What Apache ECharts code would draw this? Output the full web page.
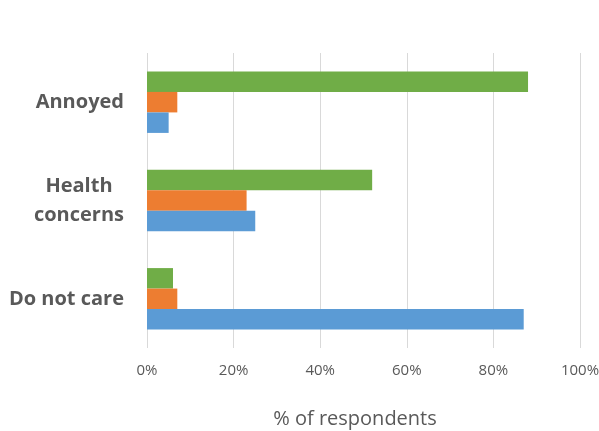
<!DOCTYPE html>
<html>
<head>
<meta charset="utf-8">
<script src="https://cdn.jsdelivr.net/npm/echarts@6/dist/echarts.min.js"></script>
<style>html,body{margin:0;padding:0;background:#fff;}#c{width:599px;height:431px;}</style>
</head>
<body>
<div id="c"></div>
<script>
var categories = ['Do not care', 'Health concerns', 'Annoyed'];
var seriesBlue = [87, 25, 5];
var seriesOrange = [7, 23, 7];
var seriesGreen = [6, 52, 88];
var xTicks = [0, 20, 40, 60, 80, 100];

var FONT = 'Open Sans';
var chart = echarts.init(document.getElementById('c'));
function bar(name, data, color) {
  return { name: name, type: 'bar', data: data, barWidth: 20.5, barGap: '0%',
    itemStyle: { color: color }, silent: true };
}
chart.setOption({
  animation: false,
  grid: { left: 147, right: 19, top: 53, bottom: 83, containLabel: false, outerBoundsMode: 'none' },
  xAxis: {
    type: 'value', min: 0, max: 100, interval: 20,
    axisLine: { show: false }, axisTick: { show: false },
    splitLine: { lineStyle: { color: '#d9d9d9', width: 1 } },
    axisLabel: { formatter: function (v) { return v + '%'; }, color: '#595959', fontSize: 15, fontFamily: FONT, margin: 15 },
    name: '% of respondents', nameLocation: 'middle', nameGap: 61,
    nameTextStyle: { color: '#595959', fontSize: 20, fontFamily: FONT, padding: [0, 17, 0, 0] }
  },
  yAxis: {
    type: 'category', data: categories,
    axisLine: { show: false }, axisTick: { show: false },
    axisLabel: {
      margin: 23, color: '#595959', fontSize: 20, fontWeight: 'bold', fontFamily: FONT, lineHeight: 29,
      formatter: function (v) {
        if (v === 'Health concerns') return '{c|Health}\n{c|concerns}';
        return v;
      },
      rich: { c: { align: 'center', color: '#595959', fontSize: 20, fontWeight: 'bold', fontFamily: FONT, lineHeight: 29 } }
    }
  },
  series: [
    bar('Green', seriesGreen, '#70AD47'),
    bar('Orange', seriesOrange, '#ED7D31'),
    bar('Blue', seriesBlue, '#5B9BD5')
  ]
});
</script>
</body>
</html>
